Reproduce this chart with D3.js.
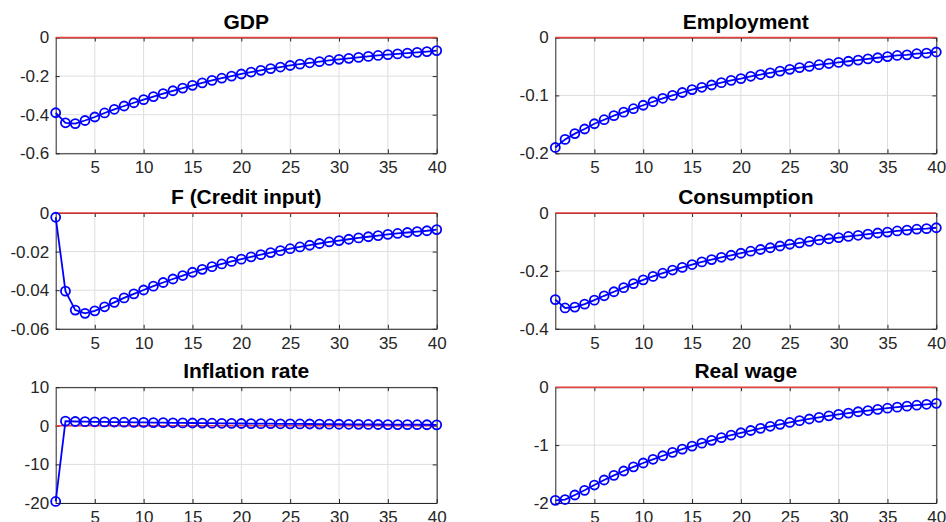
<!DOCTYPE html>
<html>
<head>
<meta charset="utf-8">
<script src="https://cdn.jsdelivr.net/npm/d3@7"></script>
<style>
  html, body { margin: 0; padding: 0; background: #fff; }
  svg { display: block; font-family: "Liberation Sans", Arial, Helvetica, sans-serif; }
</style>
</head>
<body>
<svg id="chart" width="946" height="522"></svg>
<script>
// ---- data ----
const periods = [1,2,3,4,5,6,7,8,9,10,11,12,13,14,15,16,17,18,19,20,
                 21,22,23,24,25,26,27,28,29,30,31,32,33,34,35,36,37,38,39,40];
const xTicks = [5,10,15,20,25,30,35,40];

const gdp = [-0.39,-0.442,-0.446,-0.43,-0.412,-0.391,-0.372,-0.355,-0.338,-0.322,
             -0.306,-0.291,-0.276,-0.262,-0.248,-0.235,-0.222,-0.211,-0.2,-0.189,
             -0.179,-0.17,-0.161,-0.153,-0.145,-0.138,-0.131,-0.125,-0.119,-0.113,
             -0.108,-0.103,-0.098,-0.093,-0.089,-0.085,-0.081,-0.077,-0.073,-0.068];
const employment = [-0.19,-0.176,-0.166,-0.158,-0.149,-0.142,-0.135,-0.129,-0.123,-0.117,
                    -0.111,-0.105,-0.1,-0.095,-0.09,-0.086,-0.082,-0.078,-0.074,-0.071,
                    -0.067,-0.064,-0.061,-0.058,-0.055,-0.052,-0.05,-0.047,-0.045,-0.043,
                    -0.041,-0.039,-0.037,-0.035,-0.033,-0.031,-0.03,-0.028,-0.027,-0.025];
const creditInput = [-0.0022,-0.0405,-0.0503,-0.052,-0.0507,-0.0486,-0.0463,-0.0440,-0.0419,-0.0399,
                     -0.0379,-0.0360,-0.0342,-0.0324,-0.0307,-0.0292,-0.0278,-0.0264,-0.0251,-0.0239,
                     -0.0227,-0.0216,-0.0205,-0.0195,-0.0185,-0.0176,-0.0167,-0.0158,-0.0150,-0.0143,
                     -0.0136,-0.0129,-0.0123,-0.0117,-0.0111,-0.0106,-0.0101,-0.0096,-0.0092,-0.0086];
const consumption = [-0.299,-0.328,-0.325,-0.315,-0.301,-0.286,-0.272,-0.258,-0.244,-0.231,
                     -0.219,-0.208,-0.197,-0.188,-0.178,-0.169,-0.161,-0.153,-0.146,-0.139,
                     -0.132,-0.126,-0.12,-0.114,-0.108,-0.103,-0.098,-0.093,-0.089,-0.085,
                     -0.081,-0.077,-0.073,-0.069,-0.066,-0.062,-0.059,-0.056,-0.054,-0.051];
const inflation = [-19.6,1.2,1.12,1.08,1.04,1.0,0.97,0.93,0.9,0.87,
                   0.84,0.81,0.78,0.75,0.72,0.7,0.67,0.65,0.62,0.6,
                   0.58,0.56,0.54,0.52,0.5,0.48,0.46,0.44,0.42,0.4,
                   0.39,0.37,0.35,0.34,0.32,0.31,0.29,0.28,0.27,0.25];
const realWage = [-1.954,-1.94,-1.862,-1.781,-1.69,-1.603,-1.522,-1.447,-1.376,-1.309,
                  -1.245,-1.184,-1.125,-1.07,-1.017,-0.966,-0.918,-0.872,-0.828,-0.787,
                  -0.748,-0.71,-0.675,-0.641,-0.609,-0.578,-0.549,-0.521,-0.495,-0.47,
                  -0.447,-0.424,-0.403,-0.383,-0.363,-0.345,-0.328,-0.311,-0.295,-0.279];

const titles = ["GDP","Employment","F (Credit input)","Consumption","Inflation rate","Real wage"];
const seriesList = [gdp, employment, creditInput, consumption, inflation, realWage];
const yDomains = [[-0.6,0],[-0.2,0],[-0.06,0],[-0.4,0],[-20,10],[-2,0]];
const yTickLists = [[-0.6,-0.4,-0.2,0],[-0.2,-0.1,0],[-0.06,-0.04,-0.02,0],[-0.4,-0.2,0],[-20,-10,0,10],[-2,-1,0]];
const yTickLabels = [["-0.6","-0.4","-0.2","0"],["-0.2","-0.1","0"],["-0.06","-0.04","-0.02","0"],["-0.4","-0.2","0"],["-20","-10","0","10"],["-2","-1","0"]];

// ---- layout ----
const colX = [55.7, 555.3];
const rowY = [37.5, 213, 387.2];
const W = 381, H = 115.8;
const textColor = "#262626";
const gridColor = "#dedede";

const svg = d3.select("#chart");

seriesList.forEach((vals, i) => {
  const col = i % 2, row = Math.floor(i / 2);
  const g = svg.append("g").attr("transform", `translate(${colX[col]},${rowY[row]})`);
  const x = d3.scaleLinear().domain([1, 40]).range([0, W]);
  const y = d3.scaleLinear().domain(yDomains[i]).range([H, 0]);

  // grid
  g.append("g").selectAll("line.vg").data(xTicks).join("line")
    .attr("x1", d => x(d)).attr("x2", d => x(d)).attr("y1", 0).attr("y2", H)
    .attr("stroke", gridColor).attr("stroke-width", 1);
  g.append("g").selectAll("line.hg").data(yTickLists[i]).join("line")
    .attr("x1", 0).attr("x2", W).attr("y1", d => y(d)).attr("y2", d => y(d))
    .attr("stroke", gridColor).attr("stroke-width", 1);

  // axes
  const labels = yTickLabels[i];
  const ticks = yTickLists[i];
  const fmtY = d => labels[ticks.indexOf(d)];
  const ax = [
    g.append("g").attr("transform", `translate(0,${H})`)
      .call(d3.axisBottom(x).tickValues(xTicks).tickSizeInner(-4).tickSizeOuter(0).tickPadding(8)),
    g.append("g")
      .call(d3.axisTop(x).tickValues(xTicks).tickSizeInner(-4).tickSizeOuter(0).tickFormat("")),
    g.append("g")
      .call(d3.axisLeft(y).tickValues(ticks).tickSizeInner(-4).tickSizeOuter(0).tickPadding(6.5).tickFormat(fmtY)),
    g.append("g").attr("transform", `translate(${W},0)`)
      .call(d3.axisRight(y).tickValues(ticks).tickSizeInner(-4).tickSizeOuter(0).tickFormat(""))
  ];
  ax.forEach(a => {
    a.selectAll("path.domain").attr("stroke", textColor).attr("stroke-width", 1);
    a.selectAll(".tick line").attr("stroke", textColor).attr("stroke-width", 1);
    a.selectAll(".tick text").attr("fill", textColor).style("font-size", "17px")
      .style("font-family", '"Liberation Sans", Arial, Helvetica, sans-serif');
    a.attr("font-size", null).attr("font-family", null);
  });

  // zero reference line
  g.append("line")
    .attr("x1", x(1)).attr("x2", x(40)).attr("y1", y(0)).attr("y2", y(0))
    .attr("stroke", "#e8423f").attr("stroke-width", 1.6);

  // series
  const pts = periods.map((p, k) => [p, vals[k]]);
  g.append("path").datum(pts)
    .attr("fill", "none").attr("stroke", "#0000ff").attr("stroke-width", 1.8)
    .attr("d", d3.line().x(d => x(d[0])).y(d => y(d[1])));
  g.append("g").selectAll("circle").data(pts).join("circle")
    .attr("cx", d => x(d[0])).attr("cy", d => y(d[1])).attr("r", 4.5)
    .attr("fill", "none").attr("stroke", "#0000ff").attr("stroke-width", 1.8);

  // title
  g.append("text").attr("x", W / 2).attr("y", -9)
    .attr("text-anchor", "middle").attr("fill", "#000")
    .style("font-size", "21px").style("font-weight", "bold")
    .text(titles[i]);
});
</script>
</body>
</html>
